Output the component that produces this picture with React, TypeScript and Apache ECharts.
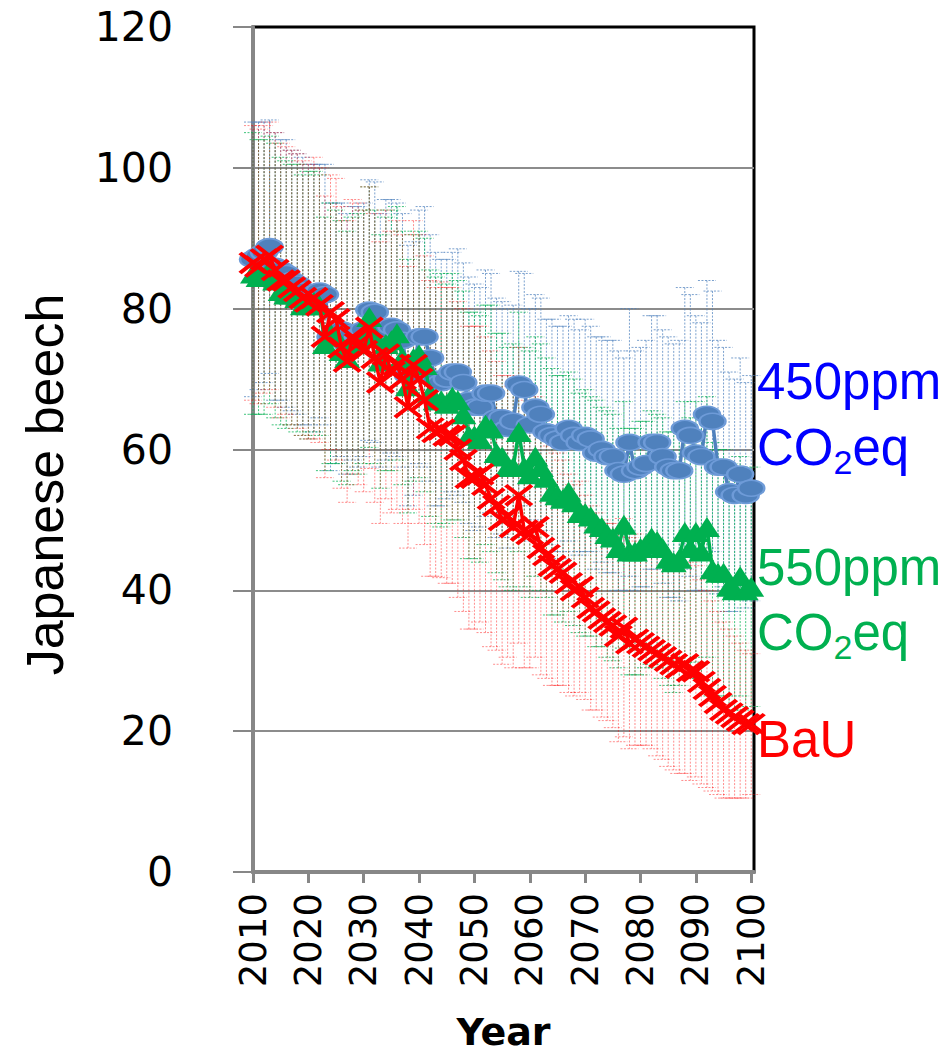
import React, { useEffect, useRef } from 'react';
import * as echarts from 'echarts';

const years: number[] = Array.from({ length: 91 }, (_, i) => 2010 + i);
const yearTicks = [2010, 2020, 2030, 2040, 2050, 2060, 2070, 2080, 2090, 2100];

// 450ppm CO2eq
const ppm450 = [
  87, 87.5, 88, 88.8, 86, 85.5, 85, 84, 83.5, 82.5,
  82, 81.5, 82.5, 82, 76, 76.5, 77, 75, 76.5, 76,
  77, 79.8, 79.5, 75.5, 77, 77.5, 77, 75.5, 70.5, 71.5,
  76, 76, 73, 70, 69.5, 70, 71, 71, 69.5, 67,
  66, 66, 68, 68, 64.5, 64.5, 63, 64, 69.3, 68.5,
  63.5, 66, 65, 62.5, 62, 61.5, 61, 63, 62, 61,
  62, 61.5, 59.5, 60, 59, 59, 57, 56.5, 61, 57,
  57.5, 58, 61, 61, 59, 57.5, 57, 57, 63, 62,
  59.5, 59, 65, 64, 57.5, 57.5, 54, 53.5, 56.5, 53.5, 54.5,
];
const ppm450Err = [
  19.5, 19, 18.5, 18, 19, 18.5, 19, 18.5, 18.5, 19,
  18.5, 19, 18, 18.5, 19, 18.5, 18, 18.5, 18, 18.5,
  18, 18.5, 18.5, 18, 18.5, 18, 18, 18, 18.5, 18,
  18, 18.5, 17.5, 18, 17.5, 17, 17, 17.5, 17, 17.5,
  17.5, 17, 17.5, 17, 17, 16.5, 17, 16.5, 16, 16.5,
  16.5, 16, 16.5, 16, 16.5, 16, 16.5, 16, 16.5, 16,
  16.5, 16, 16.5, 16, 16.5, 16.5, 17, 16.5, 19, 17,
  17, 17.5, 18, 18, 18, 18.5, 18, 18.5, 20, 20,
  19.5, 19, 19, 18.5, 18, 17, 17, 16.5, 16.5, 16, 16,
];

// 550ppm CO2eq
const ppm550 = [
  85, 84.5, 84.5, 85.5, 84, 82.5, 82, 82, 81.5, 80.5,
  80.5, 81, 80.5, 75, 76.5, 76, 74, 73, 75, 75,
  76, 78.8, 76, 72.5, 75, 75.5, 76.5, 73, 69, 73,
  73.5, 72, 68, 67, 67, 66.5, 67.5, 67, 65, 62,
  62, 61.5, 63.5, 63, 59.5, 59, 57.5, 57.5, 62.5, 57.5,
  56.5, 59, 57.5, 56, 54, 53.5, 53, 54, 52.5, 51,
  51, 50.5, 49.5, 49, 48, 47.5, 46, 49.3, 45.5, 45.5,
  46, 46.5, 47.5, 47, 46, 44.5, 44, 44.5, 48.3, 46,
  48.3, 45.5, 49, 43, 42.5, 42.5, 40.5, 40, 42, 40, 40.5,
];
const ppm550Err = [
  20, 19.5, 19.5, 19, 19.5, 19, 19, 18.5, 19, 18.5,
  19, 18.5, 18.5, 18, 18.5, 18, 18.5, 18, 18, 18.5,
  18, 18.5, 18, 18, 18, 18.5, 18, 18, 18, 17.5,
  17.5, 18, 17.5, 17.5, 18, 17, 17.5, 17, 17.5, 17.5,
  17.5, 17.5, 17, 17.5, 17, 17.5, 17, 17.5, 17, 17,
  17.5, 17, 17.5, 17, 17.5, 17, 17.5, 17, 17.5, 17,
  17.5, 17, 17.5, 17, 17.5, 17.5, 17, 17.5, 17.5, 17.5,
  18, 17.5, 18, 18, 18.5, 18, 18.5, 18, 18.5, 18.5,
  18.5, 18, 18.5, 18, 17.5, 17.5, 17.5, 17, 17, 17, 17,
];

// BaU
const bau = [
  86.5, 86, 87, 87.5, 85.5, 84, 84, 83, 82.5, 81.5,
  81, 81.5, 80.5, 76, 79.5, 78.5, 74.5, 72.5, 76, 75,
  74, 77.3, 73, 69.5, 73.5, 71, 72, 70, 66, 72,
  70, 67, 63, 62.5, 62.8, 62, 62, 60, 58.5, 56,
  56, 56.5, 55, 53, 52, 50, 50.5, 49, 53.5, 48.5,
  48, 49, 46, 45, 43.5, 43, 42.5, 41, 40, 40.5,
  39, 37.5, 37, 36, 35.5, 35, 33.5, 34.7, 32.5, 33,
  32.5, 32, 31.5, 31, 30.5, 30, 29.5, 29, 29.5, 28.5,
  28.5, 27, 26, 25, 24, 23, 22.5, 22, 21.5, 21, 21,
];
const bauErr = [
  19.5, 19.5, 19, 19, 19.5, 19.5, 19, 19.5, 19.5, 19.5,
  19.5, 20, 19.5, 20, 19.5, 20, 20, 20, 19.5, 20,
  20, 20, 20.5, 20, 20.5, 20, 20.5, 20.5, 20, 20.5,
  20.5, 20.5, 21, 20.5, 21, 21, 21, 21, 21.5, 21.5,
  21.5, 21, 21, 21, 20.5, 20.5, 20, 20, 21, 19.5,
  19, 18.5, 18, 17.5, 17, 16.5, 16, 15.5, 15, 15,
  14.5, 14.5, 14, 14, 14, 14.5, 15, 15.5, 15, 15,
  14.5, 14, 14, 14.5, 14.5, 15, 15, 15, 15.5, 15.5,
  15, 14.5, 14, 13.5, 13, 12.5, 12, 11.5, 11, 10.5, 10,
];

const BLUE = '#4F81BD';
const GREEN = '#00B050';
const RED = '#FF0000';
const SANS = '"Liberation Sans", Arial, sans-serif';
const VERD = '"DejaVu Sans", Verdana, sans-serif';

function errorSeries(name: string, vals: number[], errs: number[], color: string, opacity: number) {
  return {
    type: 'custom',
    name: name + ' error',
    silent: true,
    z: 1,
    clip: false,
    encode: { x: 0, y: 1 },
    data: years.map((y, i) => [y, vals[i], errs[i]]),
    renderItem: (params: any, api: any) => {
      const x = api.value(0);
      const v = api.value(1);
      const e = api.value(2);
      const top = api.coord([x, v + e]);
      const bot = api.coord([x, v - e]);
      const hw = 9;
      const style = { stroke: color, lineWidth: 1, lineDash: [2, 1.5], opacity };
      return {
        type: 'group',
        children: [
          { type: 'line', shape: { x1: top[0], y1: top[1], x2: bot[0], y2: bot[1] }, style },
          { type: 'line', shape: { x1: top[0] - hw, y1: top[1], x2: top[0] + hw, y2: top[1] }, style },
          { type: 'line', shape: { x1: bot[0] - hw, y1: bot[1], x2: bot[0] + hw, y2: bot[1] }, style },
        ],
      };
    },
  };
}

function lineSeries(name: string, vals: number[], color: string, symbol: string, size: number[], itemStyle: any, z: number) {
  return {
    type: 'line',
    name,
    z,
    clip: false,
    data: years.map((y, i) => [y, vals[i]]),
    symbol,
    symbolSize: size,
    showAllSymbol: true,
    lineStyle: { color, width: 3.5 },
    itemStyle,
    emphasis: { disabled: true },
  };
}

function subLabel(y: number, color: string) {
  return {
    type: 'text',
    x: 757,
    y,
    style: {
      text: '{a|CO}{s|2}{a|eq}',
      verticalAlign: 'middle',
      align: 'left',
      rich: {
        a: { fontSize: 51, fontFamily: SANS, fill: color, lineHeight: 64 },
        s: { fontSize: 34, fontFamily: SANS, fill: color, lineHeight: 64, verticalAlign: 'bottom' },
      },
    },
  };
}

export default function App() {
  const ref = useRef<HTMLDivElement>(null);
  useEffect(() => {
    const chart = echarts.init(ref.current!, null, { renderer: 'svg' });
    const option: any = {
      animation: false,
      backgroundColor: '#ffffff',
      grid: {
        left: 253,
        top: 27,
        width: 501,
        height: 845,
        outerBoundsMode: 'none',
        containLabel: false,
        show: true,
        borderColor: '#000000',
        borderWidth: 3,
        backgroundColor: 'transparent',
      },
      xAxis: {
        type: 'value',
        min: 2010,
        max: 2100.5,
        name: 'Year',
        nameLocation: 'middle',
        nameGap: 141,
        nameTextStyle: { fontFamily: VERD, fontWeight: 'bold', fontSize: 38, color: '#000' },
        axisLine: { show: true, onZero: false, lineStyle: { color: '#878787', width: 4 } },
        axisTick: { show: true, inside: false, length: 11, customValues: yearTicks, lineStyle: { color: '#878787', width: 3 } },
        axisLabel: {
          show: true,
          rotate: 90,
          margin: 21,
          customValues: yearTicks,
          formatter: (v: number) => String(Math.round(v)),
          fontFamily: VERD,
          fontSize: 37,
          color: '#000',
        },
        splitLine: { show: false },
      },
      yAxis: {
        type: 'value',
        min: 0,
        max: 120,
        interval: 20,
        name: 'Japanese beech',
        nameLocation: 'middle',
        nameGap: 182,
        nameRotate: 90,
        nameTextStyle: { fontFamily: SANS, fontSize: 52, color: '#000', padding: [0, 70, 0, 0] },
        axisLine: { show: true, lineStyle: { color: '#878787', width: 4 } },
        axisTick: { show: true, inside: false, length: 20, lineStyle: { color: '#878787', width: 2 } },
        axisLabel: { margin: 80, fontFamily: VERD, fontSize: 41, color: '#000' },
        splitLine: { show: true, showMaxLine: false, lineStyle: { color: '#8c8c8c', width: 2 } },
      },
      series: [
        errorSeries('450ppm CO2eq', ppm450, ppm450Err, BLUE, 0.75),
        errorSeries('550ppm CO2eq', ppm550, ppm550Err, GREEN, 0.75),
        errorSeries('BaU', bau, bauErr, RED, 0.45),
        lineSeries('450ppm CO2eq', ppm450, BLUE, 'circle', [26, 16], { color: BLUE, borderColor: '#6E9BD8', borderWidth: 2 }, 3),
        lineSeries('550ppm CO2eq', ppm550, GREEN, 'triangle', [26, 20], { color: GREEN }, 4),
        lineSeries('BaU', bau, RED, 'path://M0,0L24,18M24,0L0,18', [26, 20], { color: RED, borderColor: RED, borderWidth: 4 }, 5),
      ],
      graphic: [
        { type: 'text', x: 757, y: 381, style: { text: '450ppm', fontSize: 51, fontFamily: SANS, fill: '#0000FF', verticalAlign: 'middle', align: 'left' } },
        subLabel(447, '#0000FF'),
        { type: 'text', x: 757, y: 567, style: { text: '550ppm', fontSize: 51, fontFamily: SANS, fill: GREEN, verticalAlign: 'middle', align: 'left' } },
        subLabel(632, GREEN),
        { type: 'text', x: 757, y: 739, style: { text: 'BaU', fontSize: 51, fontFamily: SANS, fill: RED, verticalAlign: 'middle', align: 'left' } },
      ],
    };
    chart.setOption(option);
    return () => chart.dispose();
  }, []);
  return (
    <div
      ref={ref}
      style={{ position: 'absolute', left: 0, top: 0, width: 952, height: 1057, background: '#fff' }}
    />
  );
}
